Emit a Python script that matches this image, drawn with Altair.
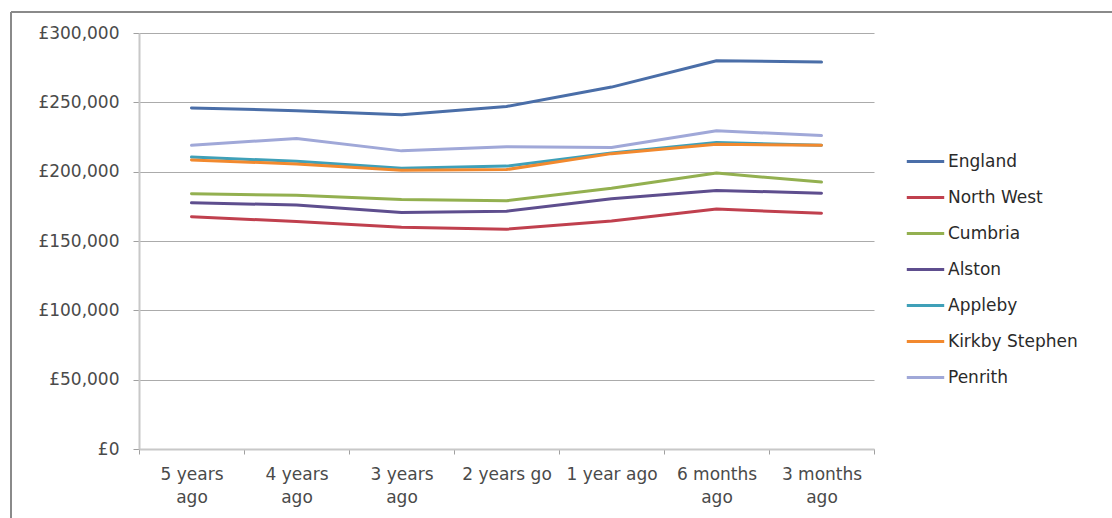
import altair as alt
import pandas as pd

periods = ["5 years|ago", "4 years|ago", "3 years|ago", "2 years go", "1 year ago", "6 months|ago", "3 months|ago"]
series_names = ["England", "North West", "Cumbria", "Alston", "Appleby", "Kirkby Stephen", "Penrith"]
england = [246000, 244000, 241000, 247000, 261000, 280000, 279000]
north_west = [167500, 164000, 160000, 158500, 164500, 173000, 170000]
cumbria = [184000, 183000, 180000, 179000, 188000, 199000, 192500]
alston = [177500, 176000, 170500, 171500, 180500, 186500, 184500]
appleby = [210500, 207500, 202500, 204000, 213500, 221000, 219000]
kirkby_stephen = [208500, 205500, 201000, 201500, 213000, 219800, 219000]
penrith = [219000, 224000, 215000, 218000, 217500, 229500, 226000]
colors = ["#4A6EA8", "#C0404E", "#93B050", "#5E4E8E", "#3FA0B8", "#F2892E", "#A0A8D8"]

values = [england, north_west, cumbria, alston, appleby, kirkby_stephen, penrith]
rows = []
for name, vals in zip(series_names, values):
    for p, v in zip(periods, vals):
        rows.append({"period": p, "series": name, "price": v})
df = pd.DataFrame(rows)

font = "DejaVu Sans"

lines = alt.Chart(df).mark_line(strokeWidth=3, strokeJoin="round", strokeCap="round").encode(
    x=alt.X("period:N", sort=periods, title=None,
            scale=alt.Scale(paddingInner=0, paddingOuter=0),
            axis=alt.Axis(labelExpr="split(datum.label, '|')", labelAngle=0,
                          labelFont=font, labelFontSize=17, labelColor="#4A4A4A",
                          labelLineHeight=23, labelPadding=12,
                          tickBand="extent", tickColor="#A0A0A0", tickSize=5,
                          domainColor="#C8C8C8", domainWidth=2, grid=False)),
    y=alt.Y("price:Q", title=None,
            scale=alt.Scale(domain=[0, 300000], nice=False),
            axis=alt.Axis(values=[0, 50000, 100000, 150000, 200000, 250000, 300000],
                          labelExpr="'£' + format(datum.value, ',')",
                          labelFont=font, labelFontSize=17, labelColor="#4A4A4A",
                          labelPadding=14, tickSize=6, tickColor="#A0A0A0",
                          domainColor="#C8C8C8", domainWidth=2,
                          gridColor="#ABABAB", gridWidth=1)),
    color=alt.Color("series:N", sort=series_names,
                    scale=alt.Scale(domain=series_names, range=colors),
                    legend=alt.Legend(title=None, orient="none", legendX=766, legendY=108,
                                      symbolType="stroke", symbolSize=1400, symbolStrokeWidth=3,
                                      labelFont=font, labelFontSize=17, labelColor="#2A2A2A",
                                      rowPadding=7, labelOffset=2, labelLimit=300)),
    order=alt.Order("series_order:Q"),
).transform_calculate(series_order="indexof(['England','North West','Cumbria','Alston','Appleby','Kirkby Stephen','Penrith'], datum.series)")

border_df = pd.DataFrame({"a": [0]})
top_border = alt.Chart(border_df).mark_rule(color="#8A8A8A", strokeWidth=2).encode(
    x=alt.value(-128), x2=alt.value(973), y=alt.value(-21))
left_border = alt.Chart(border_df).mark_rule(color="#8A8A8A", strokeWidth=2).encode(
    x=alt.value(-128), y=alt.value(-21), y2=alt.value(485))

chart = alt.layer(lines, top_border, left_border).properties(
    width=735, height=416,
    padding={"left": 139, "top": 33, "right": 238, "bottom": 69},
    autosize=alt.AutoSizeParams(type="none"),
    background="white",
).configure_view(stroke=None)

chart.save("out.html", embed_options={"renderer": "svg", "actions": False})
